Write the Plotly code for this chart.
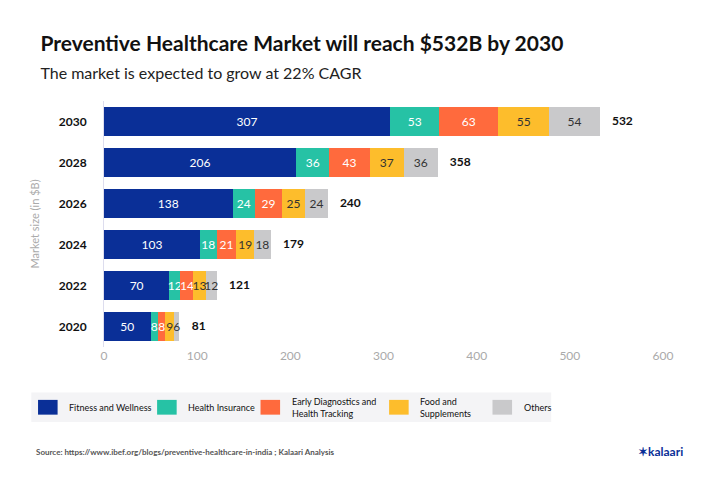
import plotly.graph_objects as go

years = ["2020", "2022", "2024", "2026", "2028", "2030"]
fitness = [50, 70, 103, 138, 206, 307]
insurance = [8, 12, 18, 24, 36, 53]
diagnostics = [8, 14, 21, 29, 43, 63]
food = [9, 13, 19, 25, 37, 55]
others = [6, 12, 18, 24, 36, 54]
totals = [81, 121, 179, 240, 358, 532]

series = [
    ("Fitness and Wellness", fitness, "#0a2f97", "white"),
    ("Health Insurance", insurance, "#26c2a5", "white"),
    ("Early Diagnostics and<br>Health Tracking", diagnostics, "#ff6a3d", "white"),
    ("Food and<br>Supplements", food, "#fdbd2c", "#333333"),
    ("Others", others, "#c9c9cb", "#333333"),
]

FONT = "Lato"
fig = go.Figure()
for name, vals, color, tcolor in series:
    fig.add_trace(go.Bar(
        y=years, x=vals, orientation="h", name=name, marker_color=color,
        marker_line_width=0, text=vals, textposition="inside",
        insidetextanchor="middle", textangle=0,
        textfont=dict(color=tcolor, size=12, family=FONT),
        constraintext="none", showlegend=False,
    ))

fig.add_trace(go.Scatter(
    y=years, x=totals, mode="text", text=[f"    <b>{t}</b>" for t in totals],
    textposition="middle right", textfont=dict(size=12, color="#111", family=FONT),
    showlegend=False, cliponaxis=False,
))

# manual legend box
fig.add_shape(type="rect", xref="paper", yref="paper", x0=-0.13, x1=0.8,
              y0=-0.305, y1=-0.185, fillcolor="#f4f4f6", line_width=0, layer="below")
lx = [-0.118, 0.095, 0.28, 0.51, 0.695]
for (name, vals, color, tcolor), x in zip(series, lx):
    fig.add_shape(type="rect", xref="paper", yref="paper", x0=x, x1=x + 0.035,
                  y0=-0.275, y1=-0.215, fillcolor=color, line_width=0)
    fig.add_annotation(xref="paper", yref="paper", x=x + 0.052, y=-0.245,
                       yanchor="middle", text=name, showarrow=False,
                       xanchor="left", align="left",
                       font=dict(size=9, color="#111", family=FONT))

fig.update_layout(
    width=720, height=480, barmode="stack", bargap=0.3,
    paper_bgcolor="white", plot_bgcolor="white",
    margin=dict(l=96, r=65, t=93, b=141),
    font=dict(family=FONT),
    title=dict(text="<b>Preventive Healthcare Market will reach $532B by 2030</b>"
                    "<br><span style='font-size:16px;color:#222'>The market is expected to grow at 22% CAGR</span>",
               x=0.045, xanchor="left", y=0.91, yanchor="top",
               font=dict(size=21, color="#111", family=FONT)),
    xaxis=dict(range=[0, 600], dtick=100, showgrid=False, zeroline=False,
               tickfont=dict(size=12, color="#aaa"), ticks="", showline=False,
               automargin=False),
    yaxis=dict(showgrid=False, ticks="", ticklabelstandoff=14, automargin=False,
               tickfont=dict(size=12, color="#111"),
               showline=True, linecolor="#dde", linewidth=1,
               title=dict(text="Market size (in $B)", font=dict(size=11, color="#aaa"), standoff=16)),
)
fig.update_yaxes(tickprefix="<b>", ticksuffix="</b>")

fig.add_annotation(xref="paper", yref="paper", x=-0.125, y=-0.425, xanchor="left",
                   yanchor="middle",
                   text="<b>Source: https://www.ibef.org/blogs/preventive-healthcare-in-india ; Kalaari Analysis</b>",
                   showarrow=False, font=dict(size=8, color="#555", family=FONT))
fig.add_annotation(xref="paper", yref="paper", x=1.04, y=-0.425, xanchor="right",
                   yanchor="middle", text="<b>✶kalaari</b>", showarrow=False,
                   font=dict(size=12, color="#0a2f97", family=FONT))

fig.write_html("out.html")
